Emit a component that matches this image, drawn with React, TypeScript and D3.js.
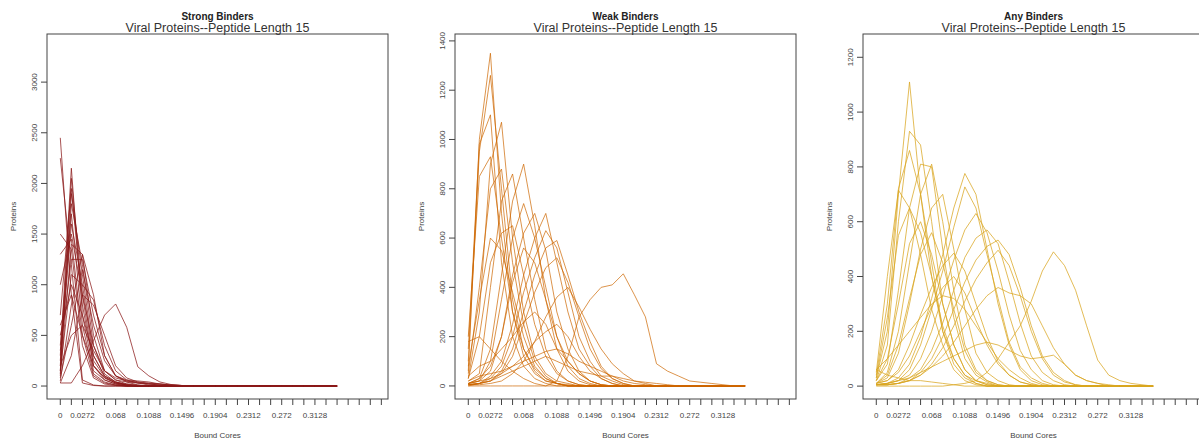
import React from "react";
import * as d3 from "d3";

// x positions are bin indices; bins are multiples of 0.0136
const X_TICK_LABELS = [
  "0", "", "0.0272", "", "", "0.068", "", "", "0.1088", "", "", "0.1496", "", "",
  "0.1904", "", "", "0.2312", "", "", "0.272", "", "", "0.3128", "", "", "", "", "", "",
];

const STRONG_TICKS = [0, 500, 1000, 1500, 2000, 2500, 3000];
const WEAK_TICKS = [0, 200, 400, 600, 800, 1000, 1200, 1400];
const ANY_TICKS = [0, 200, 400, 600, 800, 1000, 1200];

const STRONG_SERIES = [
  [2450, 900, 30, 5, 0, 0, 0, 0, 0, 0, 0, 0, 0, 0, 0, 0, 0, 0, 0, 0, 0, 0, 0, 0, 0, 0],
  [2250, 1200, 60, 10, 0, 0, 0, 0, 0, 0, 0, 0, 0, 0, 0, 0, 0, 0, 0, 0, 0, 0, 0, 0, 0, 0],
  [1500, 1350, 400, 80, 20, 5, 0, 0, 0, 0, 0, 0, 0, 0, 0, 0, 0, 0, 0, 0, 0, 0, 0, 0, 0, 0],
  [1300, 1450, 500, 100, 30, 10, 0, 0, 0, 0, 0, 0, 0, 0, 0, 0, 0, 0, 0, 0, 0, 0, 0, 0, 0, 0],
  [300, 2150, 700, 150, 60, 20, 5, 0, 0, 0, 0, 0, 0, 0, 0, 0, 0, 0, 0, 0, 0, 0, 0, 0, 0, 0],
  [200, 2050, 900, 200, 80, 30, 10, 0, 0, 0, 0, 0, 0, 0, 0, 0, 0, 0, 0, 0, 0, 0, 0, 0, 0, 0],
  [150, 1900, 1100, 300, 100, 40, 10, 0, 0, 0, 0, 0, 0, 0, 0, 0, 0, 0, 0, 0, 0, 0, 0, 0, 0, 0],
  [400, 1700, 600, 120, 40, 10, 0, 0, 0, 0, 0, 0, 0, 0, 0, 0, 0, 0, 0, 0, 0, 0, 0, 0, 0, 0],
  [250, 1600, 1000, 250, 90, 30, 10, 0, 0, 0, 0, 0, 0, 0, 0, 0, 0, 0, 0, 0, 0, 0, 0, 0, 0, 0],
  [100, 1400, 1300, 500, 150, 60, 20, 5, 0, 0, 0, 0, 0, 0, 0, 0, 0, 0, 0, 0, 0, 0, 0, 0, 0, 0],
  [350, 1250, 1250, 700, 300, 100, 40, 10, 0, 0, 0, 0, 0, 0, 0, 0, 0, 0, 0, 0, 0, 0, 0, 0, 0, 0],
  [150, 1100, 1000, 850, 400, 150, 60, 30, 10, 5, 0, 0, 0, 0, 0, 0, 0, 0, 0, 0, 0, 0, 0, 0, 0, 0],
  [500, 1000, 700, 300, 100, 40, 10, 0, 0, 0, 0, 0, 0, 0, 0, 0, 0, 0, 0, 0, 0, 0, 0, 0, 0, 0],
  [80, 600, 1150, 600, 250, 100, 50, 30, 20, 10, 0, 0, 0, 0, 0, 0, 0, 0, 0, 0, 0, 0, 0, 0, 0, 0],
  [30, 300, 900, 800, 500, 200, 80, 40, 20, 10, 5, 0, 0, 0, 0, 0, 0, 0, 0, 0, 0, 0, 0, 0, 0, 0],
  [30, 30, 200, 450, 700, 810, 580, 190, 100, 40, 15, 5, 0, 0, 0, 0, 0, 0, 0, 0, 0, 0, 0, 0, 0, 0],
  [600, 900, 500, 200, 80, 30, 10, 0, 0, 0, 0, 0, 0, 0, 0, 0, 0, 0, 0, 0, 0, 0, 0, 0, 0, 0],
  [120, 1800, 1200, 400, 150, 60, 40, 30, 25, 20, 10, 5, 0, 0, 0, 0, 0, 0, 0, 0, 0, 0, 0, 0, 0, 0],
  [50, 800, 1300, 900, 300, 100, 60, 50, 40, 20, 10, 5, 0, 0, 0, 0, 0, 0, 0, 0, 0, 0, 0, 0, 0, 0],
  [200, 500, 600, 350, 150, 80, 50, 40, 30, 20, 10, 5, 0, 0, 0, 0, 0, 0, 0, 0, 0, 0, 0, 0, 0, 0],
  [700, 1950, 800, 200, 60, 20, 0, 0, 0, 0, 0, 0, 0, 0, 0, 0, 0, 0, 0, 0, 0, 0, 0, 0, 0, 0],
  [1000, 1500, 900, 400, 120, 40, 20, 10, 0, 0, 0, 0, 0, 0, 0, 0, 0, 0, 0, 0, 0, 0, 0, 0, 0, 0],
];

const WEAK_SERIES = [
  [60, 1000, 1350, 700, 300, 120, 50, 20, 10, 5, 0, 0, 0, 0, 0, 0, 0, 0, 0, 0, 0, 0, 0, 0, 0, 0],
  [100, 950, 1260, 800, 350, 150, 60, 20, 10, 0, 0, 0, 0, 0, 0, 0, 0, 0, 0, 0, 0, 0, 0, 0, 0, 0],
  [30, 300, 900, 1070, 600, 300, 120, 50, 20, 10, 0, 0, 0, 0, 0, 0, 0, 0, 0, 0, 0, 0, 0, 0, 0, 0],
  [200, 850, 930, 600, 300, 150, 70, 30, 10, 0, 0, 0, 0, 0, 0, 0, 0, 0, 0, 0, 0, 0, 0, 0, 0, 0],
  [150, 980, 1100, 500, 200, 80, 30, 10, 0, 0, 0, 0, 0, 0, 0, 0, 0, 0, 0, 0, 0, 0, 0, 0, 0, 0],
  [20, 50, 400, 750, 860, 600, 350, 150, 60, 20, 5, 0, 0, 0, 0, 0, 0, 0, 0, 0, 0, 0, 0, 0, 0, 0],
  [10, 30, 150, 450, 750, 900, 650, 350, 150, 60, 20, 5, 0, 0, 0, 0, 0, 0, 0, 0, 0, 0, 0, 0, 0, 0],
  [10, 20, 100, 350, 600, 740, 600, 400, 200, 80, 30, 10, 0, 0, 0, 0, 0, 0, 0, 0, 0, 0, 0, 0, 0, 0],
  [10, 20, 60, 200, 450, 620, 700, 550, 300, 150, 60, 20, 5, 0, 0, 0, 0, 0, 0, 0, 0, 0, 0, 0, 0, 0],
  [5, 10, 40, 100, 250, 450, 600, 700, 500, 300, 150, 80, 30, 10, 0, 0, 0, 0, 0, 0, 0, 0, 0, 0, 0, 0],
  [5, 10, 30, 80, 200, 380, 520, 630, 560, 380, 200, 100, 40, 20, 5, 0, 0, 0, 0, 0, 0, 0, 0, 0, 0, 0],
  [5, 10, 20, 60, 150, 300, 450, 560, 590, 450, 300, 180, 80, 30, 10, 0, 0, 0, 0, 0, 0, 0, 0, 0, 0, 0],
  [30, 200, 500, 620, 650, 450, 250, 120, 50, 20, 5, 0, 0, 0, 0, 0, 0, 0, 0, 0, 0, 0, 0, 0, 0, 0],
  [50, 400, 800, 880, 500, 250, 100, 40, 10, 0, 0, 0, 0, 0, 0, 0, 0, 0, 0, 0, 0, 0, 0, 0, 0, 0],
  [40, 80, 100, 150, 200, 260, 300, 250, 150, 100, 50, 20, 5, 0, 0, 0, 0, 0, 0, 0, 0, 0, 0, 0, 0, 0],
  [10, 20, 30, 50, 80, 120, 180, 220, 250, 200, 120, 60, 30, 10, 0, 0, 0, 0, 0, 0, 0, 0, 0, 0, 0, 0],
  [5, 10, 20, 50, 120, 250, 380, 480, 520, 420, 280, 150, 70, 30, 10, 0, 0, 0, 0, 0, 0, 0, 0, 0, 0, 0],
  [80, 350, 600, 550, 380, 200, 80, 30, 10, 0, 0, 0, 0, 0, 0, 0, 0, 0, 0, 0, 0, 0, 0, 0, 0, 0],
  [20, 40, 50, 60, 80, 100, 120, 140, 150, 130, 100, 80, 60, 40, 20, 10, 5, 0, 0, 0, 0, 0, 0, 0, 0, 0],
  [5, 5, 10, 20, 50, 100, 180, 280, 360, 400, 320, 230, 150, 90, 50, 20, 10, 0, 0, 0, 0, 0, 0, 0, 0, 0],
  [10, 30, 80, 200, 420, 560, 500, 350, 200, 100, 50, 20, 5, 0, 0, 0, 0, 0, 0, 0, 0, 0, 0, 0, 0, 0],
  [0, 10, 20, 40, 60, 80, 100, 120, 100, 80, 60, 50, 40, 40, 30, 20, 15, 10, 5, 0, 0, 0, 0, 0, 0, 0],
  [0, 0, 0, 0, 0, 0, 0, 0, 20, 120, 280, 350, 400, 410, 455, 370, 280, 90, 60, 40, 20, 15, 10, 5, 0, 0],
  [180, 200, 150, 100, 60, 30, 10, 0, 0, 0, 0, 0, 0, 0, 0, 0, 0, 0, 0, 0, 0, 0, 0, 0, 0, 0],
];

const ANY_SERIES = [
  [30, 200, 700, 1110, 700, 400, 200, 100, 40, 20, 10, 0, 0, 0, 0, 0, 0, 0, 0, 0, 0, 0, 0, 0, 0, 0],
  [20, 150, 600, 930, 880, 600, 300, 150, 60, 20, 5, 0, 0, 0, 0, 0, 0, 0, 0, 0, 0, 0, 0, 0, 0, 0],
  [40, 300, 720, 860, 700, 450, 200, 80, 30, 10, 0, 0, 0, 0, 0, 0, 0, 0, 0, 0, 0, 0, 0, 0, 0, 0],
  [20, 80, 350, 650, 810, 800, 500, 250, 100, 40, 15, 0, 0, 0, 0, 0, 0, 0, 0, 0, 0, 0, 0, 0, 0, 0],
  [10, 50, 200, 450, 700, 810, 600, 350, 150, 60, 20, 5, 0, 0, 0, 0, 0, 0, 0, 0, 0, 0, 0, 0, 0, 0],
  [10, 30, 120, 300, 500, 650, 700, 500, 280, 120, 50, 20, 5, 0, 0, 0, 0, 0, 0, 0, 0, 0, 0, 0, 0, 0],
  [5, 10, 30, 80, 180, 320, 480, 650, 776, 700, 500, 300, 150, 60, 20, 5, 0, 0, 0, 0, 0, 0, 0, 0, 0, 0],
  [5, 10, 20, 60, 150, 280, 420, 580, 727, 650, 480, 320, 160, 70, 30, 10, 0, 0, 0, 0, 0, 0, 0, 0, 0, 0],
  [5, 10, 20, 40, 100, 200, 330, 460, 570, 630, 560, 420, 260, 130, 60, 20, 5, 0, 0, 0, 0, 0, 0, 0, 0, 0],
  [5, 5, 10, 30, 60, 130, 230, 350, 470, 540, 570, 520, 380, 230, 110, 50, 20, 5, 0, 0, 0, 0, 0, 0, 0, 0],
  [5, 5, 10, 20, 50, 100, 180, 280, 380, 460, 510, 533, 480, 360, 220, 110, 50, 20, 5, 0, 0, 0, 0, 0, 0, 0],
  [5, 5, 10, 20, 40, 80, 140, 220, 310, 390, 450, 496, 440, 330, 200, 100, 40, 15, 5, 0, 0, 0, 0, 0, 0, 0],
  [10, 20, 60, 150, 260, 360, 440, 485, 420, 300, 180, 90, 40, 15, 5, 0, 0, 0, 0, 0, 0, 0, 0, 0, 0, 0],
  [50, 400, 715, 650, 480, 280, 150, 60, 20, 5, 0, 0, 0, 0, 0, 0, 0, 0, 0, 0, 0, 0, 0, 0, 0, 0],
  [30, 250, 550, 650, 560, 400, 220, 100, 40, 10, 0, 0, 0, 0, 0, 0, 0, 0, 0, 0, 0, 0, 0, 0, 0, 0],
  [20, 100, 300, 520, 600, 480, 300, 150, 60, 20, 5, 0, 0, 0, 0, 0, 0, 0, 0, 0, 0, 0, 0, 0, 0, 0],
  [10, 40, 150, 320, 480, 560, 450, 280, 130, 50, 20, 5, 0, 0, 0, 0, 0, 0, 0, 0, 0, 0, 0, 0, 0, 0],
  [10, 20, 50, 110, 200, 290, 360, 400, 340, 240, 150, 80, 40, 15, 5, 0, 0, 0, 0, 0, 0, 0, 0, 0, 0, 0],
  [5, 10, 20, 30, 50, 70, 90, 110, 130, 150, 160, 150, 130, 110, 100, 105, 113, 80, 40, 20, 10, 5, 0, 0, 0, 0],
  [0, 0, 0, 0, 0, 0, 0, 5, 10, 20, 50, 100, 160, 220, 310, 420, 490, 440, 350, 220, 95, 40, 20, 10, 5, 0],
  [60, 100, 150, 200, 250, 300, 330, 320, 280, 220, 160, 100, 60, 30, 10, 0, 0, 0, 0, 0, 0, 0, 0, 0, 0, 0],
  [5, 5, 10, 20, 40, 70, 110, 160, 220, 280, 330, 360, 340, 330, 300, 220, 140, 80, 40, 20, 10, 0, 0, 0, 0, 0],
  [60, 40, 30, 20, 20, 15, 10, 5, 0, 0, 0, 0, 0, 0, 0, 0, 0, 0, 0, 0, 0, 0, 0, 0, 0, 0],
];

const PANEL_TITLES = ["Strong Binders", "Weak Binders", "Any Binders"];
const SUBTITLE = "Viral Proteins--Peptide Length 15";
const X_LABEL = "Bound Cores";
const Y_LABEL = "Proteins";

const PANELS = [
  { title: PANEL_TITLES[0], series: STRONG_SERIES, ticks: STRONG_TICKS, yDomain: [-128, 3475], color: "#8B1A1A", op: 0.75 },
  { title: PANEL_TITLES[1], series: WEAK_SERIES, ticks: WEAK_TICKS, yDomain: [-53, 1428], color: "#CD6600", op: 0.7 },
  { title: PANEL_TITLES[2], series: ANY_SERIES, ticks: ANY_TICKS, yDomain: [-47, 1285], color: "#DAA520", op: 0.75 },
];

const FONT = "'Liberation Sans', Arial, sans-serif";

function Panel({ p, k }: { p: any; k: number }) {
  const left = 47 + 408 * k;
  const width = 341;
  const top = 34;
  const bottom = 399;
  const x = d3.scaleLinear().domain([-1.2, 29.6]).range([left, left + width]);
  const y = d3.scaleLinear().domain(p.yDomain).range([bottom, top]);
  const line = d3
    .line<number>()
    .x((_, i) => x(i))
    .y((d) => y(d));
  const cx = left + width / 2;
  return (
    <g>
      <g clipPath={`url(#clip${k})`}>
        {p.series.map((s: number[], i: number) => (
          <path key={i} d={line(s) || ""} fill="none" stroke={p.color} strokeWidth={1} strokeOpacity={p.op} />
        ))}
      </g>
      <rect x={left} y={top} width={width} height={bottom - top} fill="none" stroke="#444" strokeWidth={1} />
      {p.ticks.map((t: number) => (
        <g key={t}>
          <line x1={left - 6} x2={left} y1={y(t)} y2={y(t)} stroke="#444" />
          <text
            transform={`translate(${left - 10},${y(t)}) rotate(-90)`}
            textAnchor="middle"
            fontSize={8}
            fill="#444"
            fontFamily={FONT}
          >
            {t}
          </text>
        </g>
      ))}
      {X_TICK_LABELS.map((lab, i) => (
        <g key={i}>
          <line x1={x(i)} x2={x(i)} y1={bottom} y2={bottom + 6} stroke="#444" />
          {lab !== "" && (
            <text x={x(i)} y={418} textAnchor="middle" fontSize={8} fill="#444" fontFamily={FONT}>
              {lab}
            </text>
          )}
        </g>
      ))}
      <text x={cx} y={438} textAnchor="middle" fontSize={8} fill="#444" fontFamily={FONT}>
        {X_LABEL}
      </text>
      <text
        transform={`translate(${left - 31},${(top + bottom) / 2}) rotate(-90)`}
        textAnchor="middle"
        fontSize={8}
        fill="#444"
        fontFamily={FONT}
      >
        {Y_LABEL}
      </text>
      <text x={cx} y={20} textAnchor="middle" fontSize={10} fontWeight="bold" fill="#222" fontFamily={FONT}>
        {p.title}
      </text>
      <text x={cx} y={32} textAnchor="middle" fontSize={12.5} fill="#333" fontFamily={FONT}>
        {SUBTITLE}
      </text>
    </g>
  );
}

export default function App() {
  return (
    <svg
      width={1199}
      height={440}
      style={{ position: "absolute", left: 0, top: 0, background: "#fff" }}
    >
      <defs>
        {PANELS.map((_, k) => (
          <clipPath id={`clip${k}`} key={k}>
            <rect x={47 + 408 * k} y={34} width={341} height={365} />
          </clipPath>
        ))}
      </defs>
      {PANELS.map((p, k) => (
        <Panel key={k} p={p} k={k} />
      ))}
    </svg>
  );
}
